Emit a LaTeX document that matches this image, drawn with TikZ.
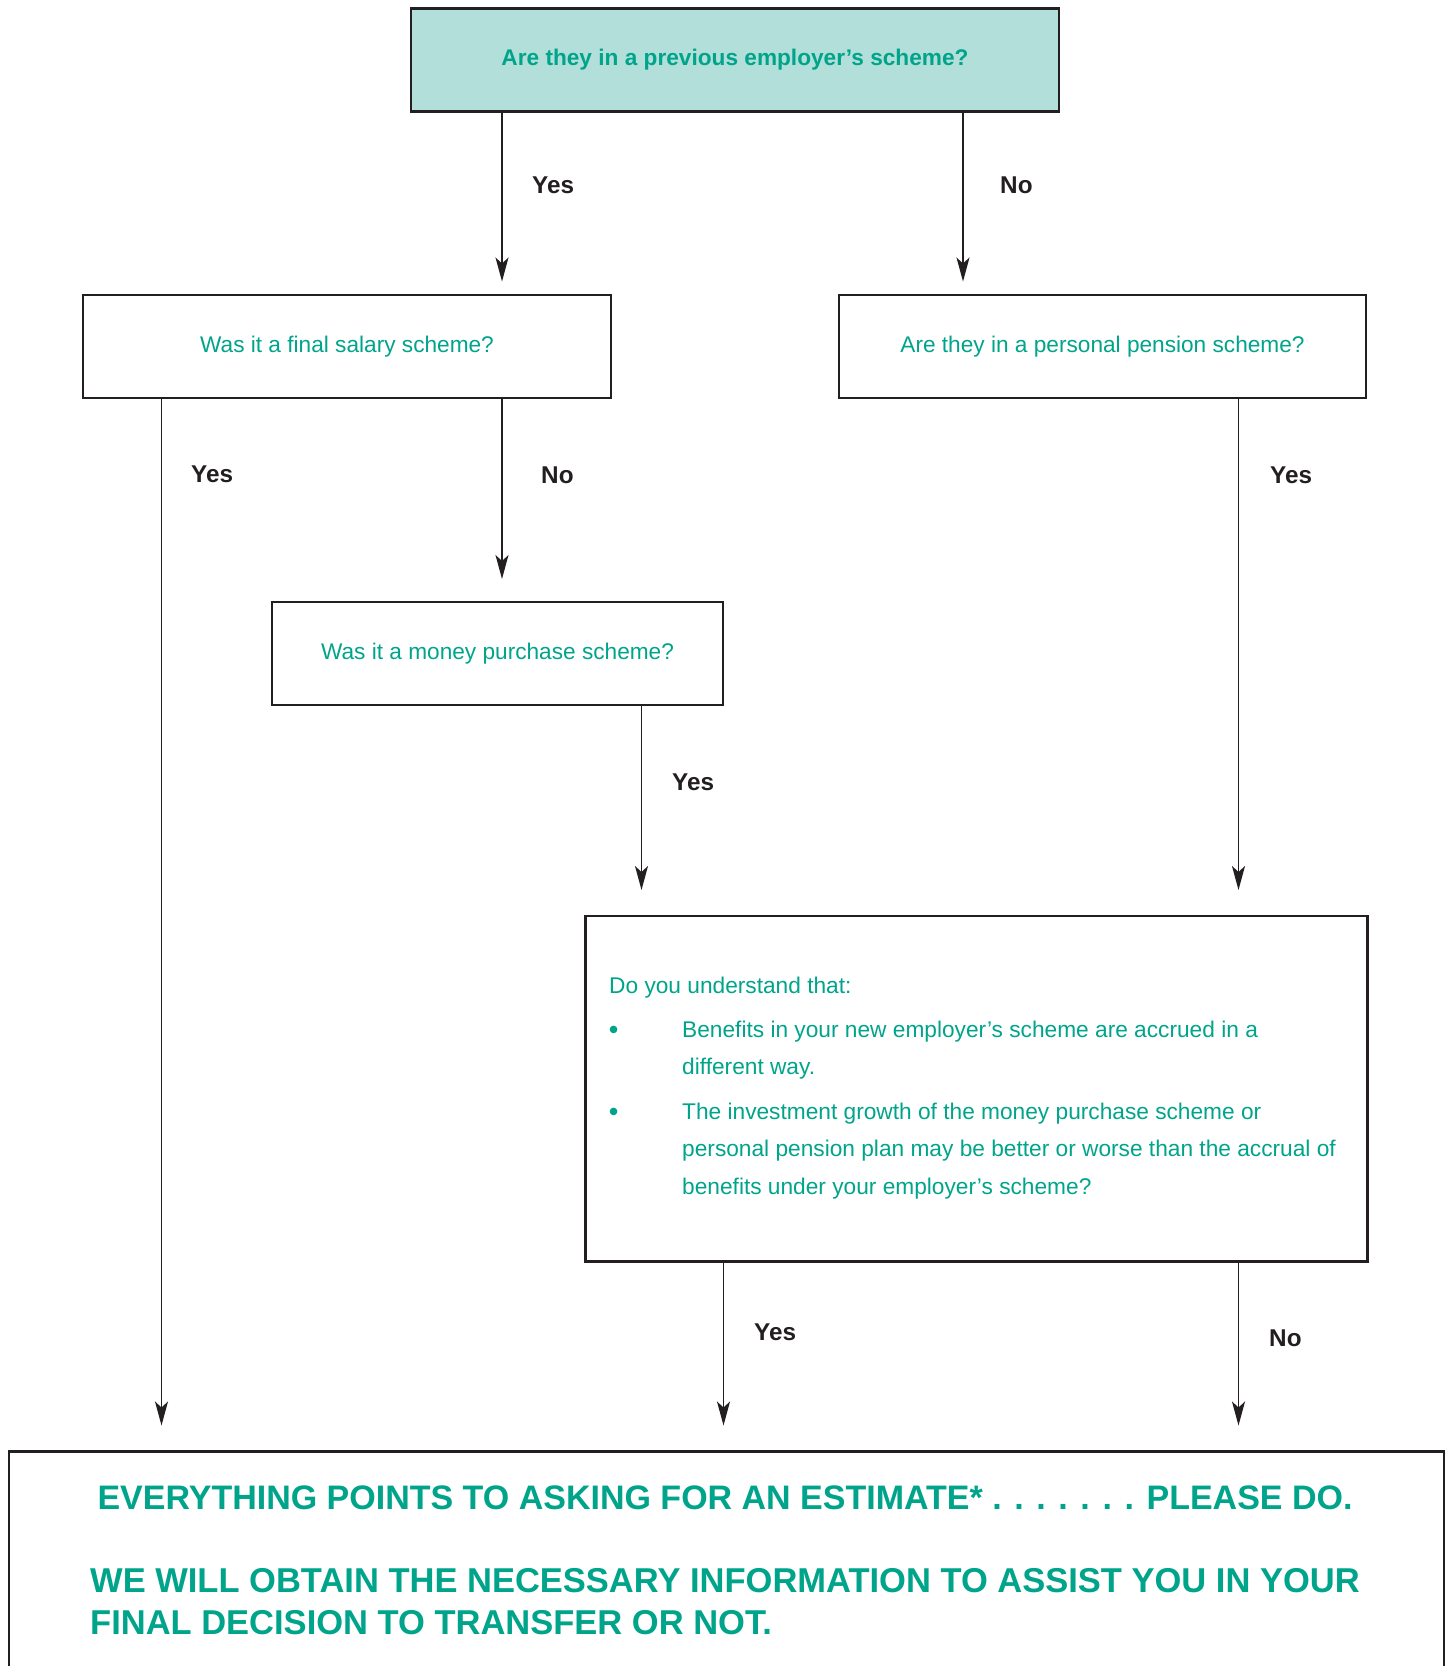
\documentclass[tikz,border=0pt]{standalone}
\usepackage{fontspec}
\setmainfont{Liberation Sans}
\usetikzlibrary{arrows.meta}
\definecolor{schemegreen}{HTML}{00A48A}
\definecolor{schemefill}{HTML}{B2DFD9}
\definecolor{labelgrey}{HTML}{231F20}

\begin{document}
\begin{tikzpicture}[x=1pt, y=-1pt,
    qbox/.style={draw=labelgrey, line width=2.6pt, inner sep=0pt, text=schemegreen,
      font=\fontsize{22.65}{26}\selectfont},
    flow/.style={draw=labelgrey, line width=1.4pt, -{Stealth[length=24pt, width=13pt, inset=6pt]}},
    answer/.style={anchor=base west, text=labelgrey, inner sep=0pt,
      font=\bfseries\fontsize{24.3}{28}\selectfont},
    body/.style={anchor=base west, text=schemegreen, inner sep=0pt, align=left,
      font=\fontsize{22.7}{37.5}\selectfont},
    shout/.style={text=schemegreen, inner sep=0pt, align=left,
      font=\bfseries\fontsize{34.5}{41.5}\selectfont}]
  \useasboundingbox (0,0) rectangle (1451,1666);
  \clip (0,0) rectangle (1451,1666);

  % ===== questions =====
  \node[qbox, fill=schemefill, minimum width=648pt, minimum height=103pt,
    font=\bfseries\fontsize{22.65}{26}\selectfont] (prev) at (735,60)
    {Are they in a previous employer’s scheme?};
  \node[qbox, minimum width=528pt, minimum height=103pt] (final) at (347,346.5)
    {Was it a final salary scheme?};
  \node[qbox, minimum width=527pt, minimum height=103pt] (personal) at (1102.5,346.5)
    {Are they in a personal pension scheme?};
  \node[qbox, minimum width=451pt, minimum height=103pt] (money) at (497.5,653.5)
    {Was it a money purchase scheme?};
  \node[qbox, minimum width=782pt, minimum height=345.5pt, anchor=north west] (understand)
    at (584,914.5) {};
  \node[qbox, minimum width=1435pt, minimum height=300pt, anchor=north west] (estimate)
    at (7.5,1450) {};

  % ===== understand text (base = last line) =====
  \node[body] (ask) at (609,993) {Do you understand that:};
  \node[body, font=\bfseries\fontsize{26}{37.5}\selectfont] (dotA) at (609,1038) {•};
  \node[body] (itemA) at (682,1074.5) {Benefits in your new employer’s scheme are accrued in a\\
    different way.};
  \node[body, font=\bfseries\fontsize{26}{37.5}\selectfont] (dotB) at (609,1120) {•};
  \node[body] (itemB) at (682,1194) {The investment growth of the money purchase scheme or\\
    personal pension plan may be better or worse than the accrual of\\
    benefits under your employer’s scheme?};

  % ===== estimate text =====
  \node[shout, anchor=base, font=\bfseries\fontsize{34}{41.5}\selectfont] (please) at (725,1509)
    {EVERYTHING POINTS TO ASKING FOR AN ESTIMATE* . . . . . . . PLEASE DO.};
  \node[shout, anchor=base west] (obtain) at (90,1634)
    {WE WILL OBTAIN THE NECESSARY INFORMATION TO ASSIST YOU IN YOUR\\
    FINAL DECISION TO TRANSFER OR NOT.};

  % ===== arrow ends =====
  \coordinate (endA) at (502,281.5);
  \coordinate (endB) at (963,281.5);
  \coordinate (endC) at (161.5,1425.5);
  \coordinate (endD) at (502,579);
  \coordinate (endE) at (1238.5,890);
  \coordinate (endF) at (641.5,890);
  \coordinate (endG) at (723.5,1425.5);
  \coordinate (endH) at (1238.5,1425.5);

  \draw[flow] (prev.south -| endA) -- (endA);
  \node[answer] (yesA) at (532,193) {Yes};
  \draw[flow] (prev.south -| endB) -- (endB);
  \node[answer] (noB) at (1000,193) {No};

  \draw[flow] (final.south -| endC) -- (endC);
  \node[answer] (yesC) at (191,482) {Yes};
  \draw[flow] (final.south -| endD) -- (endD);
  \node[answer] (noD) at (541,483) {No};

  \draw[flow] (personal.south -| endE) -- (endE);
  \node[answer] (yesE) at (1270,483) {Yes};
  \draw[flow] (money.south -| endF) -- (endF);
  \node[answer] (yesF) at (672,790) {Yes};

  \draw[flow] (understand.south -| endG) -- (endG);
  \node[answer] (yesG) at (754,1340) {Yes};
  \draw[flow] (understand.south -| endH) -- (endH);
  \node[answer] (noH) at (1269,1346) {No};
\end{tikzpicture}
\end{document}
